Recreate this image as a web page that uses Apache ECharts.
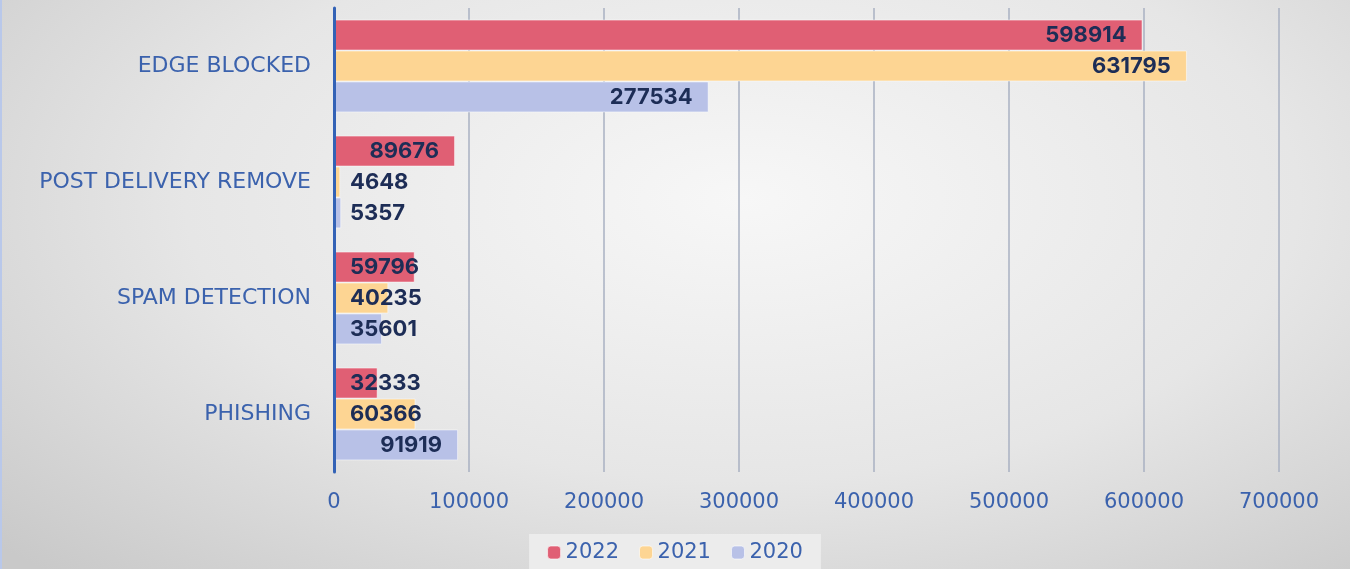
<!DOCTYPE html>
<html><head><meta charset="utf-8">
<script src="https://cdn.jsdelivr.net/npm/echarts@6/dist/echarts.min.js"></script>
<style>
html,body{margin:0;padding:0;}
#c{width:1350px;height:569px;background:radial-gradient(ellipse 75% 90% at 55% 35%, #f7f7f7 0%, #e6e6e6 55%, #c9c9c9 100%);box-shadow:inset 2px 0 0 #b9c8ea;}
</style></head><body>
<div id="c"></div>
<script>
const categories = ['EDGE BLOCKED', 'POST DELIVERY REMOVE', 'SPAM DETECTION', 'PHISHING'];
const seriesNames = ['2022', '2021', '2020'];
const values2022 = [598914, 89676, 59796, 32333];
const values2021 = [631795, 4648, 40235, 60366];
const values2020 = [277534, 5357, 35601, 91919];
const xTicks = [0, 100000, 200000, 300000, 400000, 500000, 600000, 700000];

const colors = ['#e05f74', '#fdd593', '#b8c1e7'];
const allValues = [values2022, values2021, values2020];
const lightFont = 'DejaVu Sans';

const chart = echarts.init(document.getElementById('c'));
function mkData(arr) {
  return arr.map(v => ({
    value: v,
    label: { position: v < 77000 ? 'insideLeft' : 'insideRight' }
  }));
}
chart.setOption({
  animation: false,
  textStyle: { fontFamily: 'Inter' },
  grid: { left: 334, right: 71, top: 8, bottom: 97, containLabel: false },
  legend: {
    bottom: 0, left: 'center',
    data: seriesNames,
    itemWidth: 13, itemHeight: 13, itemGap: 20,
    backgroundColor: 'rgba(238,238,238,0.85)',
    padding: [8, 18, 6, 18],
    textStyle: { color: '#3b62ad', fontSize: 21, fontFamily: lightFont },
    itemStyle: { borderColor: 'rgba(255,255,255,0.6)', borderWidth: 1 }
  },
  xAxis: {
    type: 'value', min: xTicks[0], max: xTicks[xTicks.length - 1], interval: 100000,
    axisLine: { show: false }, axisTick: { show: false },
    splitLine: { show: true, lineStyle: { color: '#a9b0c2', width: 1.5 } },
    axisLabel: { color: '#3b62ad', fontSize: 21, fontFamily: lightFont, margin: 20,
      formatter: v => String(v) }
  },
  yAxis: {
    type: 'category', data: categories, inverse: true, z: 10,
    axisLine: { show: true, lineStyle: { color: '#3362b6', width: 3 } },
    axisTick: { show: false },
    axisLabel: { color: '#3b62ad', fontSize: 22, fontFamily: lightFont, margin: 23, padding: [8, 0, 0, 0] }
  },
  series: seriesNames.map((n, i) => ({
    name: n, type: 'bar',
    data: mkData(allValues[i]),
    barGap: '0%', barCategoryGap: '20%',
    itemStyle: { color: colors[i], borderColor: 'rgba(255,255,255,0.5)', borderWidth: 1 },
    label: { show: true, color: '#1d2d56', fontSize: 22, fontWeight: 'bold', fontFamily: 'Inter', distance: 16 }
  }))
});
</script>
</body></html>
